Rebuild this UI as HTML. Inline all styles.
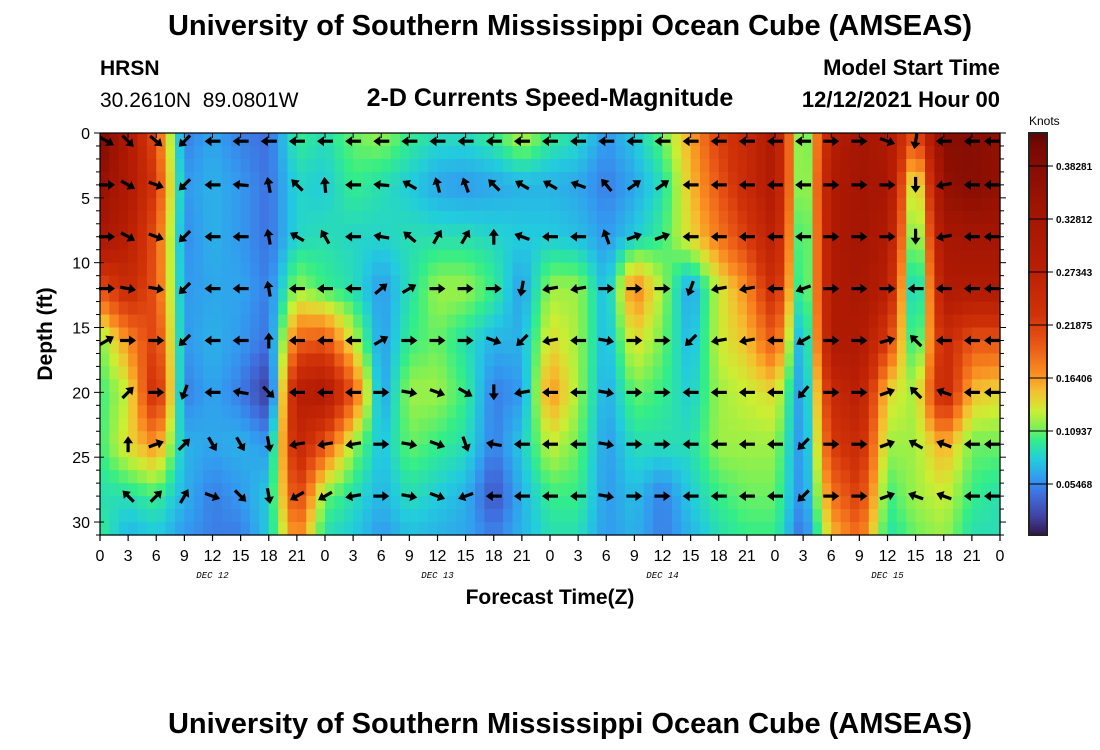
<!DOCTYPE html>
<html><head><meta charset="utf-8">
<style>
body{margin:0;background:#fff;width:1100px;height:750px;overflow:hidden;font-family:"Liberation Sans",sans-serif}
svg{display:block}
</style></head>
<body>
<svg id="chart" width="1100" height="750" xmlns="http://www.w3.org/2000/svg" font-family="Liberation Sans, sans-serif">
<text x="570" y="35" text-anchor="middle" font-size="29" font-weight="bold">University of Southern Mississippi Ocean Cube (AMSEAS)</text>
<text x="100" y="75" font-size="21" font-weight="bold">HRSN</text>
<text x="100" y="107" font-size="21" xml:space="preserve">30.2610N  89.0801W</text>
<text x="550" y="106" text-anchor="middle" font-size="25" font-weight="bold">2-D Currents Speed-Magnitude</text>
<text x="1000" y="75" text-anchor="end" font-size="22" font-weight="bold">Model Start Time</text>
<text x="1000" y="107" text-anchor="end" font-size="22" font-weight="bold">12/12/2021 Hour 00</text>
<g id="heat"></g>
<g id="arrows"></g>
<g id="axes"></g>
<text transform="translate(52,334) rotate(-90)" text-anchor="middle" font-size="21" font-weight="bold">Depth (ft)</text>
<text x="550" y="604" text-anchor="middle" font-size="21" font-weight="bold">Forecast Time(Z)</text>
<g id="cbar"></g>
<text x="1029" y="125" font-size="12">Knots</text>
<text x="570" y="733" text-anchor="middle" font-size="29" font-weight="bold">University of Southern Mississippi Ocean Cube (AMSEAS)</text>
</svg>
<script>
const hours=[0,3,6,9,12,15,18,21,24,27,30,33,36,39,42,45,48,51,54,57,60,63,66,69,72,75,78,81,84,87,90,93,96];
const depths=[0,4,8,12,16,20,24,28,31];
const speed=[
[.40,.30,.20,.05,.065,.05,.045,.10,.09,.11,.12,.10,.09,.09,.10,.13,.10,.09,.06,.08,.11,.16,.22,.25,.30,.08,.28,.33,.30,.20,.38,.38,.36],
[.36,.30,.22,.06,.07,.06,.045,.085,.08,.10,.09,.08,.065,.06,.065,.07,.07,.065,.05,.065,.09,.15,.20,.25,.30,.08,.30,.33,.32,.10,.36,.38,.36],
[.32,.28,.20,.055,.07,.06,.045,.085,.09,.085,.085,.09,.09,.09,.085,.08,.08,.075,.06,.08,.10,.14,.18,.22,.28,.07,.30,.33,.30,.08,.32,.33,.33],
[.20,.25,.20,.06,.065,.065,.05,.12,.10,.09,.06,.09,.12,.12,.10,.06,.12,.12,.07,.18,.12,.06,.13,.17,.25,.07,.30,.32,.28,.05,.30,.30,.30],
[.11,.17,.22,.06,.07,.06,.045,.19,.20,.13,.06,.10,.11,.09,.07,.07,.14,.12,.07,.14,.11,.07,.13,.15,.20,.05,.30,.30,.22,.08,.25,.20,.20],
[.10,.13,.25,.05,.065,.05,.015,.28,.30,.20,.06,.12,.12,.10,.05,.06,.17,.12,.065,.11,.10,.08,.12,.13,.14,.05,.25,.28,.14,.12,.26,.15,.14],
[.10,.14,.17,.07,.065,.07,.06,.26,.20,.12,.075,.11,.10,.09,.05,.08,.13,.11,.06,.09,.09,.09,.12,.12,.12,.05,.22,.25,.12,.12,.16,.11,.11],
[.09,.09,.10,.07,.05,.06,.08,.22,.11,.09,.07,.09,.08,.07,.03,.07,.10,.10,.06,.075,.05,.08,.10,.11,.11,.05,.18,.22,.10,.12,.13,.10,.09],
[.10,.07,.08,.06,.05,.05,.08,.18,.09,.08,.06,.075,.07,.065,.05,.07,.09,.09,.06,.07,.05,.07,.09,.10,.10,.04,.15,.19,.09,.11,.12,.09,.09]];
const arrowDepths=[0.4,4,8,12,16,20,24,28];
const arrowDir=[
[-30,-45,-40,225,180,180,180,180,180,180,180,180,180,180,180,180,180,180,180,180,180,180,180,180,180,180,0,0,-20,260,180,180,180],
[0,-30,-20,225,180,175,100,135,95,180,175,150,105,110,135,150,150,160,130,35,35,180,180,180,180,180,0,0,0,270,190,180,180],
[0,-30,-20,225,180,180,100,150,120,180,170,140,60,60,90,160,180,180,110,20,20,180,180,180,180,180,0,0,0,270,190,180,180],
[0,-10,-10,225,180,180,100,180,180,180,40,30,0,0,0,260,190,190,0,0,0,250,190,190,180,200,0,0,0,180,180,180,180],
[30,0,0,225,180,180,90,180,180,180,30,0,0,0,-20,225,190,180,-10,0,0,225,190,190,180,210,0,0,15,135,180,180,180],
[null,45,0,250,180,170,-45,180,180,180,0,-10,-20,-30,270,190,180,180,-10,0,0,180,180,180,180,230,0,0,20,135,160,180,180],
[null,90,20,45,-60,-60,-80,190,190,190,0,-10,-20,-70,170,180,180,180,-10,0,0,180,180,180,180,225,0,0,20,150,160,180,180],
[null,135,45,60,-20,-45,-80,210,210,190,0,-10,-20,200,180,180,180,180,-10,0,0,180,180,180,180,225,0,0,20,160,160,180,180]];
const xTickLabels=["0","3","6","9","12","15","18","21"];
const dayLabels=["DEC 12","DEC 13","DEC 14","DEC 15"];
const yTicks=[0,5,10,15,20,25,30];
const cbarTicks=[0.05468,0.10937,0.16406,0.21875,0.27343,0.32812,0.38281];

const NS="http://www.w3.org/2000/svg";
const X0=100,X1=1000,Y0=133,Y1=535,HMAX=96,DMAX=31;
const xs=h=>X0+(h/HMAX)*(X1-X0);
const ys=d=>Y0+(d/DMAX)*(Y1-Y0);
const stops=[[0,[48,18,59]],[0.02,[64,64,160]],[0.045,[64,112,224]],[0.06,[51,153,240]],[0.08,[34,204,221]],[0.1,[51,238,136]],[0.115,[136,240,80]],[0.13,[204,238,51]],[0.15,[245,192,48]],[0.17,[250,138,32]],[0.2,[232,85,21]],[0.23,[208,50,8]],[0.28,[184,30,4]],[0.34,[160,20,2]],[0.4,[122,10,3]],[0.42,[90,5,5]]];
function color(v){
  if(v<=stops[0][0])return 'rgb('+stops[0][1]+')';
  for(let i=1;i<stops.length;i++){if(v<=stops[i][0]){const a=stops[i-1],b=stops[i],t=(v-a[0])/(b[0]-a[0]);return 'rgb('+a[1].map((c,k)=>Math.round(c+(b[1][k]-c)*t)).join(',')+')';}}
  return 'rgb('+stops[stops.length-1][1]+')';
}
function el(tag,attrs,parent){const e=document.createElementNS(NS,tag);for(const k in attrs)e.setAttribute(k,attrs[k]);parent.appendChild(e);return e;}
function interp(arr,v){let i=0;while(i<arr.length-2&&v>arr[i+1])i++;return [i,Math.min(1,Math.max(0,(v-arr[i])/(arr[i+1]-arr[i])))];}
function sample(h,d){const [i,t]=interp(hours,h),[j,u]=interp(depths,d);
  const a=speed[j][i],b=speed[j][i+1],c=speed[j+1][i],e=speed[j+1][i+1];
  return (a*(1-t)+b*t)*(1-u)+(c*(1-t)+e*t)*u;}
const heat=document.getElementById('heat');
for(let h=0;h<HMAX;h+=1){for(let d=0;d<DMAX;d+=1){
  const v=sample(h+0.5,d+0.5);
  const r=el('rect',{x:xs(h).toFixed(2),y:ys(d).toFixed(2),width:(xs(1)-xs(0)+0.6).toFixed(2),height:(ys(1)-ys(0)+0.6).toFixed(2),fill:color(v)},heat);
  
  
}}
const arrows=document.getElementById('arrows');
arrowDepths.forEach((d,j)=>{hours.forEach((h,i)=>{
  const a=arrowDir[j][i];if(a===null)return;
  const cx=Math.min(X1-8,Math.max(X0+7,xs(h))),cy=ys(d)+(j===0?3:0);
  const g=el('g',{transform:`translate(${cx.toFixed(1)},${cy.toFixed(1)}) rotate(${-a})`},arrows);
  
  
  el('line',{x1:-8,y1:0,x2:3,y2:0,stroke:'#000','stroke-width':3.2},g);
  el('path',{d:'M8,0 L1,-5 L1,5 Z',fill:'#000'},g);
});});
const axes=document.getElementById('axes');
el('rect',{x:X0,y:Y0,width:X1-X0,height:Y1-Y0,fill:'none',stroke:'#000','stroke-width':1.2},axes);
hours.forEach((h,i)=>{
  el('line',{x1:xs(h),y1:Y1,x2:xs(h),y2:Y1+6,stroke:'#000','stroke-width':1.2},axes);
  el('line',{x1:xs(h),y1:Y0,x2:xs(h),y2:Y0+5,stroke:'#000','stroke-width':1},axes);
  const t=el('text',{x:xs(h),y:561,'text-anchor':'middle','font-size':16},axes);
  t.textContent=i===hours.length-1?"0":xTickLabels[i%8];
  
  
});
dayLabels.forEach((s,i)=>{
  const t=el('text',{x:xs(12+24*i),y:578,'text-anchor':'middle','font-size':9,'font-style':'italic','font-family':'Liberation Mono, monospace'},axes);
  t.textContent=s;
  
  
});
for(let d=0;d<=DMAX;d++){
  const major=d%5===0,len=major?6:4;
  el('line',{x1:X0-len,y1:ys(d),x2:X0+(major?4:0),y2:ys(d),stroke:'#000','stroke-width':1},axes);
  el('line',{x1:X1,y1:ys(d),x2:X1+len,y2:ys(d),stroke:'#000','stroke-width':1},axes);
}
yTicks.forEach(d=>{
  const t=el('text',{x:X0-10,y:ys(d)+6,'text-anchor':'end','font-size':16},axes);
  t.textContent=d;
  
  
});
const cb=document.getElementById('cbar');
const CX=1029,CW=18,vy=v=>484-(v-0.05468)/0.05468*53;
for(let y=Y0;y<Y1;y+=2){el('rect',{x:CX,y:y,width:CW,height:2.5,fill:color((484-y-1)/53*0.05468+0.05468)},cb);}
el('rect',{x:CX,y:Y0,width:CW,height:Y1-Y0,fill:'none',stroke:'#222','stroke-width':2},cb);
cbarTicks.forEach(v=>{
  el('line',{x1:CX,y1:vy(v),x2:CX+CW+6,y2:vy(v),stroke:'#000','stroke-width':1},cb);
  const t=el('text',{x:CX+CW+9,y:vy(v)+4,'font-size':10,'font-weight':'bold'},cb);
  t.textContent=v.toFixed(5);
  
  
});
</script>
</body></html>
